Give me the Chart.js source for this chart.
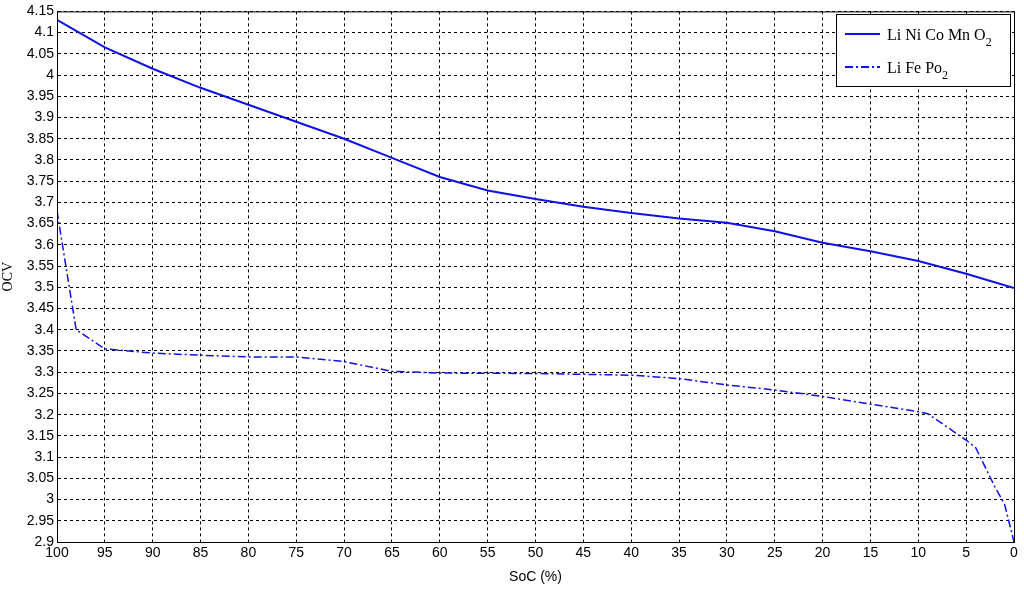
<!DOCTYPE html>
<html><head><meta charset="utf-8">
<script src="https://cdn.jsdelivr.net/npm/chart.js@4/dist/chart.umd.min.js"></script>
<style>html,body{margin:0;padding:0;background:#fff}#w{width:1024px;height:590px}</style>
</head><body><div id="w"><canvas id="c"></canvas></div>
<script>
const nmcSoc = [100,95,90,85,80,75,70,65,60,55,50,45,40,35,30,25,20,15,10,5,0];
const nmcOcv = [4.13,4.065,4.015,3.97,3.93,3.89,3.85,3.805,3.76,3.728,3.708,3.69,3.675,3.662,3.652,3.632,3.605,3.585,3.562,3.532,3.498];
const lfpSoc = [100,98,95,90,85,80,75,70,65,60,50,40,35,30,25,20,15,10,9,5,4,2,1,0];
const lfpOcv = [3.68,3.40,3.355,3.345,3.34,3.336,3.336,3.325,3.302,3.298,3.297,3.293,3.285,3.27,3.258,3.243,3.225,3.207,3.202,3.14,3.122,3.03,2.99,2.9];
const xTicks = [100,95,90,85,80,75,70,65,60,55,50,45,40,35,30,25,20,15,10,5,0];
const yTicks = [2.9,2.95,3,3.05,3.1,3.15,3.2,3.25,3.3,3.35,3.4,3.45,3.5,3.55,3.6,3.65,3.7,3.75,3.8,3.85,3.9,3.95,4,4.05,4.1,4.15];
const seriesNames = ['Li Ni Co Mn O','Li Fe Po'];
const blue = '#1010e8';
const pts = (xs, ys) => xs.map((x,i)=>({x, y: ys[i]}));

const boxLegend = {
  id:'boxLegend',
  afterDraw(ch){
    const c=ch.ctx, a=ch.chartArea;
    c.save();
    c.strokeStyle='#000'; c.lineWidth=1; c.setLineDash([]);
    c.strokeRect(a.left+0.5,a.top+0.5,a.right-a.left,a.bottom-a.top);
    const bx=836, by=14, bw=174, bh=72;
    c.fillStyle='#fff'; c.fillRect(bx,by,bw,bh); c.strokeRect(bx+0.5,by+0.5,bw,bh);
    c.strokeStyle=blue; c.lineWidth=2;
    c.beginPath(); c.moveTo(845,34); c.lineTo(880,34); c.stroke();
    c.setLineDash([8,3,2,3]);
    c.beginPath(); c.moveTo(845,67); c.lineTo(880,67); c.stroke();
    c.setLineDash([]);
    c.fillStyle='#000'; c.textBaseline='alphabetic';
    c.font='16px "Liberation Serif"';
    c.fillText(seriesNames[0],887,40);
    let w=c.measureText(seriesNames[0]).width;
    c.font='12px "Liberation Serif"'; c.fillText('2',887+w,46);
    c.font='16px "Liberation Serif"';
    c.fillText(seriesNames[1],887,73);
    w=c.measureText(seriesNames[1]).width;
    c.font='12px "Liberation Serif"'; c.fillText('2',887+w,79);
    c.restore();
  }
};

new Chart(document.getElementById('c'),{
  type:'line',
  data:{datasets:[
    {data:pts(nmcSoc,nmcOcv),borderColor:blue,borderWidth:2,pointRadius:0,tension:0},
    {data:pts(lfpSoc,lfpOcv),borderColor:blue,borderWidth:1.5,borderDash:[8,3,2,3],pointRadius:0,tension:0}
  ]},
  options:{
    responsive:true,maintainAspectRatio:false,animation:false,
    layout:{padding:{top:11,right:10,left:0,bottom:0}},
    plugins:{legend:{display:false},tooltip:{enabled:false}},
    scales:{
      x:{type:'linear',reverse:true,min:0,max:100,
        afterBuildTicks:s=>{s.ticks=xTicks.map(v=>({value:v}));},
        afterFit:s=>{s.height=48;},
        ticks:{color:'#000',font:{family:'Liberation Sans',size:14},maxRotation:0,autoSkip:false,padding:3},
        grid:{color:'#000',lineWidth:1,drawTicks:false},
        border:{display:true,color:'#000',dash:[3,3]},
        title:{display:true,text:'SoC (%)',color:'#000',font:{family:'Liberation Sans',size:14},padding:{top:2}}
      },
      y:{type:'linear',min:2.9,max:4.15,
        afterBuildTicks:s=>{s.ticks=yTicks.map(v=>({value:v}));},
        afterFit:s=>{s.width=57;},
        ticks:{color:'#000',font:{family:'Liberation Sans',size:14},autoSkip:false,padding:3,
          callback:v=>String(Number(v.toFixed(2)))},
        grid:{color:'#000',lineWidth:1,drawTicks:false},
        border:{display:true,color:'#000',dash:[3,3]},
        title:{display:true,text:'OCV',color:'#000',font:{family:'Liberation Serif',size:14},padding:0}
      }
    }
  },
  plugins:[boxLegend]
});
</script></body></html>
